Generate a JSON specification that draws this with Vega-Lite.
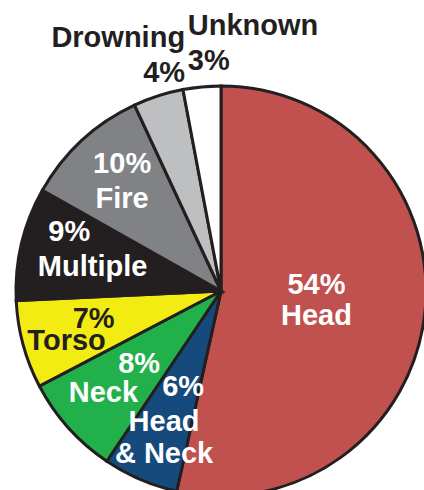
{
  "$schema": "https://vega.github.io/schema/vega-lite/v6.json",
  "width": 404,
  "height": 398,
  "autosize": {"type": "none"},
  "padding": {"left": 19, "top": 92, "right": 1, "bottom": 0},
  "background": "white",
  "config": {
    "view": {"stroke": null},
    "text": {"font": "Liberation Sans", "fontWeight": "bold", "fontSize": 29, "lineBreak": "\n"}
  },
  "data": {
    "values": [
      {"cause": "Head", "pct": 54, "share": "54%", "name": "Head", "label": "54%\nHead", "rank": 1},
      {"cause": "Head & Neck", "pct": 6, "share": "6%", "name": "Head\n& Neck", "label": "6%\nHead\n& Neck", "rank": 2},
      {"cause": "Neck", "pct": 8, "share": "8%", "name": "Neck", "label": "8%\nNeck", "rank": 3},
      {"cause": "Torso", "pct": 7, "share": "7%", "name": "Torso", "label": "7%\nTorso", "rank": 4},
      {"cause": "Multiple", "pct": 9, "share": "9%", "name": "Multiple", "label": "9%\nMultiple", "rank": 5},
      {"cause": "Fire", "pct": 10, "share": "10%", "name": "Fire", "label": "10%\nFire", "rank": 6},
      {"cause": "Drowning", "pct": 4, "share": "4%", "name": "Drowning", "label": "Drowning\n4%", "rank": 7},
      {"cause": "Unknown", "pct": 3, "share": "3%", "name": "Unknown", "label": "Unknown\n3%", "rank": 8}
    ]
  },
  "encoding": {
    "theta": {"field": "pct", "type": "quantitative", "stack": true},
    "order": {"field": "rank", "type": "quantitative"}
  },
  "layer": [
    {
      "mark": {"type": "arc", "outerRadius": 205, "stroke": "#231f20", "strokeWidth": 3},
      "encoding": {
        "color": {
          "field": "cause",
          "type": "nominal",
          "scale": {
            "domain": ["Head", "Head & Neck", "Neck", "Torso", "Multiple", "Fire", "Drowning", "Unknown"],
            "range": ["#c1514e", "#164a7c", "#22b04b", "#f3ec13", "#231f20", "#808285", "#bdbfc1", "#ffffff"]
          },
          "legend": null
        }
      }
    },
    {
      "mark": {"type": "text", "radius": 96, "lineHeight": 31, "color": "white", "dy": -16},
      "encoding": {"text": {"condition": {"test": "datum.cause === 'Head'", "field": "label"}, "value": ""}}
    },
    {
      "mark": {"type": "text", "radius": 104, "color": "white", "dx": 3},
      "encoding": {"text": {"condition": {"test": "datum.cause === 'Head & Neck'", "field": "share"}, "value": ""}}
    },
    {
      "mark": {"type": "text", "radius": 160, "lineHeight": 32, "color": "white", "dx": 6, "dy": -16},
      "encoding": {"text": {"condition": {"test": "datum.cause === 'Head & Neck'", "field": "name"}, "value": ""}}
    },
    {
      "mark": {"type": "text", "radius": 110, "color": "white"},
      "encoding": {"text": {"condition": {"test": "datum.cause === 'Neck'", "field": "share"}, "value": ""}}
    },
    {
      "mark": {"type": "text", "radius": 158, "color": "white", "dy": -3},
      "encoding": {"text": {"condition": {"test": "datum.cause === 'Neck'", "field": "name"}, "value": ""}}
    },
    {
      "mark": {"type": "text", "radius": 132, "color": "#231f20", "dy": -6},
      "encoding": {"text": {"condition": {"test": "datum.cause === 'Torso'", "field": "share"}, "value": ""}}
    },
    {
      "mark": {"type": "text", "radius": 160, "color": "#231f20", "dy": 8},
      "encoding": {"text": {"condition": {"test": "datum.cause === 'Torso'", "field": "name"}, "value": ""}}
    },
    {
      "mark": {"type": "text", "radius": 156, "color": "white", "dy": -23},
      "encoding": {"text": {"condition": {"test": "datum.cause === 'Multiple'", "field": "share"}, "value": ""}}
    },
    {
      "mark": {"type": "text", "radius": 132, "color": "white", "dy": 7},
      "encoding": {"text": {"condition": {"test": "datum.cause === 'Multiple'", "field": "name"}, "value": ""}}
    },
    {
      "mark": {"type": "text", "radius": 150, "lineHeight": 35, "color": "white", "dx": 3, "dy": -17},
      "encoding": {"text": {"condition": {"test": "datum.cause === 'Fire'", "field": "label"}, "value": ""}}
    },
    {
      "mark": {"type": "text", "radius": 248, "lineHeight": 35, "color": "#231f20", "align": "right", "dx": 40, "dy": -17},
      "encoding": {"text": {"condition": {"test": "datum.cause === 'Drowning'", "field": "label"}, "value": ""}}
    },
    {
      "mark": {"type": "text", "radius": 249, "lineHeight": 35, "color": "#231f20", "align": "left", "dx": -10, "dy": -17},
      "encoding": {"text": {"condition": {"test": "datum.cause === 'Unknown'", "field": "label"}, "value": ""}}
    }
  ]
}
